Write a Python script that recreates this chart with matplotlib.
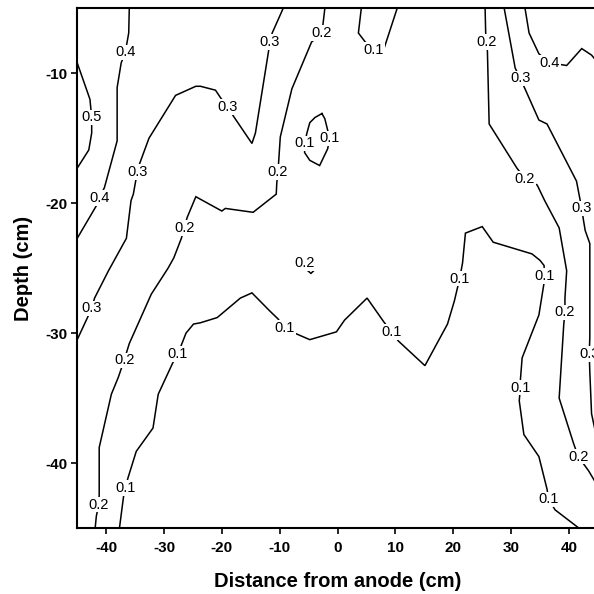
import matplotlib
matplotlib.use('Agg')
import matplotlib.pyplot as plt

plt.rcParams['font.family'] = ['Liberation Sans', 'DejaVu Sans']
plt.rcParams['axes.unicode_minus'] = False

# Contour lines (distance from anode in cm, depth in cm)
lvl05_x = [-45.0, -42.8, -42.5, -42.5, -43.0, -45.0]
lvl05_y = [-9.2, -12.0, -13.4, -14.6, -15.9, -17.3]

lvl04_left_x = [-36.0, -36.1, -36.7, -37.4, -38.1, -38.1, -40.3, -41.2, -41.7, -45.0]
lvl04_left_y = [-5.0, -6.9, -8.4, -9.2, -11.1, -15.2, -18.8, -19.6, -20.2, -22.7]

lvl04_right_x = [32.4, 33.1, 34.8, 36.7, 39.6, 42.2, 43.9, 45.0]
lvl04_right_y = [-5.0, -6.9, -8.5, -9.2, -9.4, -8.1, -8.6, -9.2]

lvl03_left_x = [-9.4, -11.3, -11.7, -12.0, -14.2, -14.8, -18.0, -19.0, -20.2, -21.1,
                -23.7, -24.5, -28.0, -32.6, -34.5, -35.3, -35.7, -36.5, -39.6, -42.0,
                -42.5, -45.0]
lvl03_left_y = [-5.0, -6.9, -7.6, -8.5, -14.6, -15.4, -13.3, -12.6, -11.9, -11.3,
                -11.0, -11.0, -11.7, -15.0, -17.3, -19.3, -19.8, -22.7, -25.2, -27.3,
                -28.1, -30.5]

lvl03_right_x = [28.8, 30.7, 31.6, 32.4, 34.8, 36.2, 41.3, 42.2, 42.5, 42.8, 43.6,
                 43.6, 43.5, 43.6, 43.9, 45.0]
lvl03_right_y = [-5.0, -9.6, -10.4, -11.2, -13.6, -13.9, -18.3, -20.4, -21.3, -22.1,
                 -23.1, -30.3, -31.6, -33.0, -36.2, -38.5]

lvl02_left_x = [-2.2, -2.7, -4.5, -7.9, -9.9, -10.3, -10.5, -10.6, -14.6, -19.4, -20.0,
                -24.5, -26.0, -26.5, -27.0, -28.3, -29.3, -32.2, -34.5, -36.0, -36.9,
                -37.9, -39.1, -41.2, -41.2, -41.3, -41.7, -41.9]
lvl02_left_y = [-5.0, -6.9, -7.6, -11.2, -14.9, -17.6, -18.4, -19.3, -20.7, -20.4, -20.6,
                -19.5, -21.1, -21.9, -22.7, -24.2, -25.0, -27.0, -29.3, -30.8, -32.1,
                -33.4, -34.7, -38.8, -42.4, -43.2, -44.1, -45.0]

lvl02_right_x = [25.5, 25.6, 25.7, 25.9, 26.2, 31.0, 32.4, 34.5, 35.8, 38.3, 39.6,
                 39.3, 39.3, 39.1, 38.3, 40.8, 41.6, 43.4, 45.0]
lvl02_right_y = [-5.0, -6.9, -7.6, -8.3, -13.9, -17.3, -18.1, -18.6, -19.8, -21.9, -25.2,
                 -27.3, -28.4, -29.3, -35.0, -38.5, -39.5, -40.6, -41.8]

lvl02_spot_x = [-5.4, -4.6, -3.9, -4.6, -5.4]
lvl02_spot_y = [-25.1, -25.4, -25.1, -24.7, -25.1]

lvl01_top_x = [4.1, 3.6, 4.8, 6.3, 8.1, 10.3]
lvl01_top_y = [-5.0, -6.9, -7.6, -8.2, -8.0, -5.0]

lvl01_loop_x = [-2.7, -3.9, -4.8, -5.3, -5.7, -5.7, -4.8, -3.1, -1.7, -1.4, -1.7, -2.2, -2.7]
lvl01_loop_y = [-13.1, -13.4, -13.8, -14.6, -15.4, -16.1, -16.7, -17.1, -15.8, -15.0,
                -14.4, -13.5, -13.1]

lvl01_main_x = [-37.7, -37.0, -36.7, -36.2, -34.8, -31.9, -31.0, -28.5, -27.6, -26.2,
                -24.9, -23.7, -20.8, -16.8, -14.8, -11.7, -10.3, -9.1, -7.4, -4.8,
                -0.2, 1.2, 5.1, 8.1, 9.4, 10.5, 15.1, 19.0, 20.2, 21.1,
                21.6, 22.1, 25.0, 26.9, 33.6, 35.0, 35.7, 35.7, 35.7, 34.8,
                31.9, 31.6, 31.6, 31.4, 32.2, 34.8, 36.2, 36.5, 37.6, 41.7]
lvl01_main_y = [-45.0, -42.6, -41.9, -41.1, -39.1, -37.3, -34.7, -32.3, -31.6, -30.0,
                -29.3, -29.2, -28.8, -27.3, -26.9, -28.3, -28.9, -29.6, -30.0, -30.5,
                -29.9, -29.0, -27.3, -29.2, -29.9, -30.6, -32.5, -29.3, -27.5, -25.8,
                -24.6, -22.3, -21.8, -23.0, -23.9, -24.4, -24.8, -25.6, -26.1, -28.6,
                -31.9, -33.6, -34.2, -35.2, -37.8, -39.5, -42.0, -42.8, -43.6, -45.0]

contour_lines = [
    (lvl05_x, lvl05_y), (lvl04_left_x, lvl04_left_y), (lvl04_right_x, lvl04_right_y),
    (lvl03_left_x, lvl03_left_y), (lvl03_right_x, lvl03_right_y),
    (lvl02_left_x, lvl02_left_y), (lvl02_right_x, lvl02_right_y),
    (lvl02_spot_x, lvl02_spot_y), (lvl01_top_x, lvl01_top_y),
    (lvl01_loop_x, lvl01_loop_y), (lvl01_main_x, lvl01_main_y),
]

# Inline labels
label_text = ['0.5', '0.4', '0.4', '0.4',
              '0.3', '0.3', '0.3', '0.3', '0.3', '0.3', '0.3',
              '0.2', '0.2', '0.2', '0.2', '0.2', '0.2', '0.2', '0.2', '0.2', '0.2',
              '0.1', '0.1', '0.1', '0.1', '0.1', '0.1', '0.1', '0.1', '0.1', '0.1', '0.1']
label_x = [-42.5, -36.7, -41.2, 36.7,
           -11.7, -19.0, -34.5, -42.5, 31.6, 42.2, 43.5,
           -2.7, -10.3, -26.5, -36.9, -41.3, -5.7, 25.7, 32.4, 39.3, 41.6,
           6.3, -5.7, -1.4, -27.6, -36.7, -9.1, 9.4, 21.1, 35.7, 31.6, 36.5]
label_y = [-13.4, -8.4, -19.6, -9.2,
           -7.6, -12.6, -17.6, -28.1, -10.4, -20.4, -31.6,
           -6.9, -17.6, -21.9, -32.1, -43.2, -24.6, -7.6, -18.1, -28.4, -39.5,
           -8.2, -15.4, -15.0, -31.6, -41.9, -29.6, -29.9, -25.8, -25.6, -34.2, -42.8]

fig = plt.figure(figsize=(5.94, 5.94), dpi=100)
ax = fig.add_axes([0.130, 0.111, 0.8766, 0.875])

for xs, ys in contour_lines:
    ax.plot(xs, ys, color='black', linewidth=1.1, solid_joinstyle='miter')

for t, x, y in zip(label_text, label_x, label_y):
    ax.text(x, y, t, ha='center', va='center', fontsize=10.5, color='black',
            bbox=dict(facecolor='white', edgecolor='none', pad=0.5))

ax.set_xlim(-45, 45)
ax.set_ylim(-45, -5)
ax.set_xticks([-40, -30, -20, -10, 0, 10, 20, 30, 40])
ax.set_yticks([-40, -30, -20, -10])
for s in ax.spines.values():
    s.set_linewidth(1.5)
ax.tick_params(direction='out', length=4, width=1.2, labelsize=11)
ax.tick_params(axis='x', pad=5)
ax.tick_params(axis='y', pad=3)
for lab in ax.get_xticklabels() + ax.get_yticklabels():
    lab.set_fontweight('bold')

ax.set_xlabel('Distance from anode (cm)', fontsize=14.5, fontweight='bold')
ax.set_ylabel('Depth (cm)', fontsize=14.5, fontweight='bold')
ax.xaxis.set_label_coords(0.5, -0.085)
ax.yaxis.set_label_coords(-0.085, 0.5)

plt.savefig('out.png', dpi=100)
